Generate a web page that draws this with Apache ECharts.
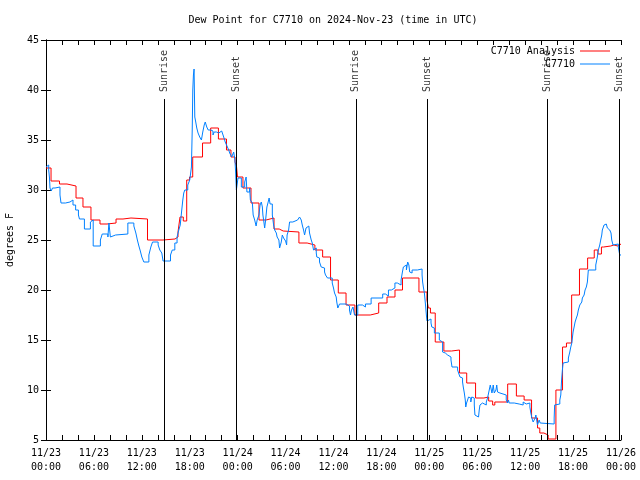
<!DOCTYPE html>
<html><head><meta charset="utf-8">
<script src="https://cdn.jsdelivr.net/npm/echarts@6/dist/echarts.min.js"></script>
<style>html,body{margin:0;padding:0;background:#fff}#c{width:640px;height:480px}</style>
</head><body><div id="c"></div><script>
// Hours since 2024-11-23 00:00 UTC
const analysisHours = [0,0.63,1.69,2.63,3.76,4.63,5.63,6.76,7.64,8.77,9.64,10.64,12.71,14.65,16.15,16.53,16.78,17.19,17.62,17.97,18.37,19.6,20.62,21.59,22.6,23.16,23.67,23.86,23.98,24.66,25.67,26.67,27.55,28.55,29.2,29.7,31.67,32.7,33.67,34.64,35.63,36.6,37.57,38.68,40.6,41.66,42.7,43.7,44.64,46.7,47.7,47.88,48.14,48.74,49.82,50.78,51.78,52.68,53.79,54.83,55.43,55.93,56.2,57.81,58.9,59.87,60.8,61.55,61.83,62.34,62.88,63.85,64.68,65.17,65.82,66.8,67.82,68.65,69.11,69.55,69.82,70.72,71.1,71.61,72];
const analysisValues = [32.2,30.9,30.6,30.4,29.2,28.3,27.0,26.6,26.7,27.1,27.2,27.1,25.0,25.1,25.3,25.8,27.3,26.9,31.0,31.3,33.3,34.7,36.2,35.1,34.0,33.3,32.8,32.3,31.3,30.2,28.7,27.0,27.2,26.1,25.9,25.8,24.7,24.5,24.0,23.3,21.0,19.7,18.5,17.5,17.7,18.7,19.3,20.0,21.2,19.8,19.0,18.2,17.7,14.8,13.9,14.0,11.7,10.7,9.2,9.3,8.9,8.5,8.8,10.6,9.4,9.0,7.2,6.2,5.7,5.5,5.1,10.0,14.3,14.7,19.5,22.1,23.2,24.0,23.6,24.3,24.4,24.5,24.4,24.6,24.6];

const obsHours = [0,0.19,0.34,0.44,0.5,0.66,0.81,1.13,1.75,1.88,2.44,3.0,3.38,3.71,4.06,4.19,4.81,5.56,5.75,5.91,6.81,7.04,7.75,7.88,8.06,8.31,8.71,10.25,11.0,11.25,11.44,11.63,11.81,12.0,12.25,12.88,13.13,13.34,14.04,14.25,14.5,14.66,15.59,15.81,16.13,16.41,16.63,16.81,16.96,17.13,17.25,17.38,17.75,18.0,18.21,18.31,18.38,18.46,18.54,18.63,18.75,18.88,19.04,19.25,19.46,19.63,19.81,19.94,20.13,20.31,20.63,20.91,21.06,21.34,21.63,22.0,22.25,22.44,22.66,22.88,23.0,23.25,23.5,23.66,23.75,23.84,24.04,24.46,24.88,25.06,25.16,25.5,25.59,25.84,25.94,26.13,26.31,26.44,26.66,26.81,26.96,27.09,27.16,27.25,27.38,27.5,27.66,27.79,27.94,28.06,28.34,28.5,28.63,28.84,28.94,29.16,29.25,29.46,29.59,29.75,30.0,30.13,30.19,30.38,30.5,30.91,31.5,31.75,31.96,32.09,32.25,32.38,32.56,32.66,32.91,33.0,33.21,33.34,33.5,33.63,33.84,33.91,34.16,34.25,34.46,34.59,34.88,35.0,35.25,35.84,36.0,36.13,36.34,36.41,36.54,36.75,37.59,37.75,38.0,38.13,38.25,38.44,38.63,39.04,39.63,40.0,40.71,42.16,42.5,42.88,43.25,43.5,43.69,44.0,44.46,44.63,44.75,45.0,45.13,45.29,45.44,45.54,45.71,45.84,46.5,47.09,47.16,47.25,47.38,47.5,47.63,47.71,47.81,48.21,48.31,48.41,48.63,49.25,49.46,49.66,49.88,50.0,50.29,50.71,50.84,51.54,51.66,51.84,51.96,52.16,52.25,52.38,52.5,52.56,52.66,52.79,52.91,53.09,53.19,53.31,53.5,53.63,53.71,53.75,54.16,54.25,54.34,54.5,54.66,55.13,55.29,55.41,55.5,55.63,55.71,55.84,55.91,56.0,56.13,56.25,56.34,56.44,56.54,56.75,56.84,57.63,57.79,57.91,58.0,58.63,58.88,59.25,59.5,59.75,60.0,60.13,60.59,60.71,60.84,61.0,61.13,61.25,61.34,61.54,61.75,61.88,62.09,63.63,63.69,63.75,64.34,64.46,64.56,64.66,64.75,64.88,65.41,65.59,65.71,65.84,65.91,66.0,66.13,66.25,66.34,66.41,66.54,66.66,66.84,66.96,67.09,67.16,67.38,67.5,67.66,67.79,67.91,68.84,69.04,69.16,69.34,69.46,69.59,69.66,69.88,70.0,70.16,70.29,70.5,70.59,70.75,70.84,71.0,71.13,71.66,71.84,72];
const obsValues = [32.3,32.5,32.0,31.2,30.2,29.9,30.2,30.3,29.5,28.7,28.8,29.0,28.5,28.0,27.5,27.1,26.1,26.8,27.0,24.4,25.0,25.6,25.3,26.7,25.3,25.5,25.6,26.7,26.4,25.7,25.0,24.4,23.9,23.3,22.8,23.5,24.3,24.8,24.5,24.0,23.7,22.9,23.5,24.0,24.7,25.3,26.0,26.5,27.7,29.0,29.7,30.0,30.5,31.0,32.3,36.0,40.0,41.5,42.1,37.3,36.8,36.2,35.7,35.3,35.0,35.8,36.5,36.8,36.3,36.0,35.9,35.5,35.8,35.7,35.9,36.0,35.3,34.8,34.4,34.0,33.7,33.3,33.8,33.0,31.7,30.0,31.2,30.3,30.8,31.3,29.8,30.2,29.0,28.7,27.5,27.0,26.4,27.0,27.5,28.5,28.8,28.3,27.5,27.0,26.2,27.0,28.3,28.7,29.2,28.6,27.5,26.5,26.0,25.7,25.3,25.0,24.2,24.8,25.5,25.2,24.9,24.5,25.5,26.0,26.8,27.0,27.2,27.3,27.0,26.5,26.0,25.5,26.2,26.4,26.3,25.7,25.0,24.7,24.0,24.2,23.7,23.3,23.2,22.8,22.3,22.2,21.8,21.5,21.2,20.7,20.2,19.7,19.3,18.8,18.2,18.6,18.5,18.4,18.0,17.5,18.0,18.3,17.5,18.5,18.3,18.6,19.2,19.6,19.4,20.0,19.8,20.2,20.7,20.5,21.0,21.8,22.3,22.5,22.0,22.8,22.5,21.8,21.7,22.0,22.1,21.5,20.8,20.3,19.7,18.7,17.5,16.9,17.1,16.7,16.3,16.2,15.7,15.0,14.8,13.8,13.7,13.5,13.3,13.0,12.3,12.0,11.7,11.3,11.2,10.8,10.3,9.7,9.0,8.3,8.7,9.0,9.3,9.2,8.8,9.3,9.2,8.5,7.5,7.3,7.5,8.0,8.5,8.7,8.5,8.8,9.2,9.3,10.0,10.5,10.2,9.7,10.0,10.5,9.7,9.5,10.0,10.5,9.8,9.7,9.5,9.0,8.7,9.0,8.7,8.8,8.6,8.7,8.5,8.8,8.6,8.7,8.3,7.7,7.2,6.8,6.7,7.2,7.5,6.5,7.0,6.7,6.6,7.2,8.5,8.6,9.0,9.5,11.0,12.0,12.7,12.8,13.2,13.8,14.3,14.7,15.2,15.8,16.3,16.8,17.0,17.2,17.5,18.0,18.5,18.7,18.8,19.2,19.5,20.0,20.3,20.8,22.0,22.5,23.3,24.0,24.5,25.0,25.5,26.0,26.5,26.6,26.5,26.2,26.0,25.9,25.7,25.0,24.5,24.6,24.3,23.5,23.5];

const sunEventHours = [14.78, 23.78, 38.8, 47.8, 62.8, 71.8];
const sunEventNames = ['Sunrise', 'Sunset', 'Sunrise', 'Sunset', 'Sunrise', 'Sunset'];
const xTickLabels = ['11/23\n00:00','11/23\n06:00','11/23\n12:00','11/23\n18:00','11/24\n00:00','11/24\n06:00','11/24\n12:00','11/24\n18:00','11/25\n00:00','11/25\n06:00','11/25\n12:00','11/25\n18:00','11/26\n00:00'];

const FONT = 'DejaVu Sans Mono';
const zip = (a, b) => a.map((v, i) => [v, b[i]]);

const chart = echarts.init(document.getElementById('c'), null, {renderer: 'canvas'});
const axisCommon = {
  axisLine: {show: true, lineStyle: {color: '#000', width: 1}},
  splitLine: {show: false}
};
chart.setOption({
  animation: false,
  backgroundColor: '#fff',
  title: {
    text: 'Dew Point for C7710 on 2024-Nov-23 (time in UTC)',
    left: 333, top: 15, textAlign: 'center', padding: 0,
    textStyle: {fontFamily: FONT, fontSize: 10, fontWeight: 'normal', color: '#000'}
  },
  legend: {
    orient: 'vertical', right: 30, top: 46, align: 'right', padding: 0,
    itemWidth: 30, itemHeight: 1, itemGap: 3,
    textStyle: {fontFamily: FONT, fontSize: 10, color: '#000'},
    data: [{name: 'C7710 Analysis', icon: 'rect'}, {name: 'C7710', icon: 'rect'}],
    selectedMode: false
  },
  grid: {left: 46, right: 19, top: 40, bottom: 40, containLabel: false, outerBoundsMode: 'none'},
  xAxis: [
    Object.assign({}, axisCommon, {
      type: 'value', min: 0, max: 72, interval: 6, position: 'bottom',
      axisTick: {show: true, inside: true, length: 5, lineStyle: {color: '#000'}},
      minorTick: {show: true, splitNumber: 3, length: 5, lineStyle: {color: '#000'}},
      axisLabel: {
        fontFamily: FONT, fontSize: 10, color: '#000', margin: 6, lineHeight: 14,
        showMinLabel: true, showMaxLabel: true,
        formatter: v => xTickLabels[Math.round(v / 6)] || ''
      }
    }),
    Object.assign({}, axisCommon, {
      type: 'value', min: 0, max: 72, interval: 6, position: 'top',
      axisTick: {show: true, inside: true, length: 5, lineStyle: {color: '#000'}},
      minorTick: {show: true, splitNumber: 3, length: 5, lineStyle: {color: '#000'}},
      axisLabel: {show: false}
    })
  ],
  yAxis: [
    Object.assign({}, axisCommon, {
      type: 'value', min: 5, max: 45, interval: 5, position: 'left',
      name: 'degrees F', nameLocation: 'middle', nameGap: 31,
      nameTextStyle: {fontFamily: FONT, fontSize: 10, color: '#000'},
      axisTick: {show: true, inside: true, length: 5, lineStyle: {color: '#000'}},
      axisLabel: {fontFamily: FONT, fontSize: 10, color: '#000', margin: 7}
    }),
    Object.assign({}, axisCommon, {
      type: 'value', min: 5, max: 45, interval: 5, position: 'right',
      axisTick: {show: true, inside: true, length: 5, lineStyle: {color: '#000'}},
      axisLabel: {show: false}
    })
  ],
  series: [
    {
      name: 'C7710 Analysis', type: 'line', step: 'end', showSymbol: false,
      data: zip(analysisHours, analysisValues),
      lineStyle: {color: '#ff0000', width: 1}, itemStyle: {color: '#ff0000'},
      clip: true, silent: true, z: 3
    },
    {
      name: 'C7710', type: 'line', step: 'end', showSymbol: false,
      data: zip(obsHours, obsValues),
      lineStyle: {color: '#0080ff', width: 1}, itemStyle: {color: '#0080ff'},
      clip: true, silent: true, z: 4
    },
    {
      name: 'sun', type: 'scatter', symbolSize: 0, silent: true, z: 5,
      data: sunEventHours.map((t, i) => ({value: [t, 39.8], name: sunEventNames[i]})),
      label: {
        show: true, position: [0, 0], rotate: 90, align: 'left', verticalAlign: 'middle',
        formatter: p => p.name,
        fontFamily: FONT, fontSize: 10, color: '#000'
      },
      markLine: {
        silent: true, symbol: ['none', 'none'],
        lineStyle: {color: '#000', width: 1, type: 'solid'},
        label: {show: false},
        data: sunEventHours.map(t => [{coord: [t, 39.1]}, {coord: [t, 5]}])
      }
    }
  ]
});
</script></body></html>
